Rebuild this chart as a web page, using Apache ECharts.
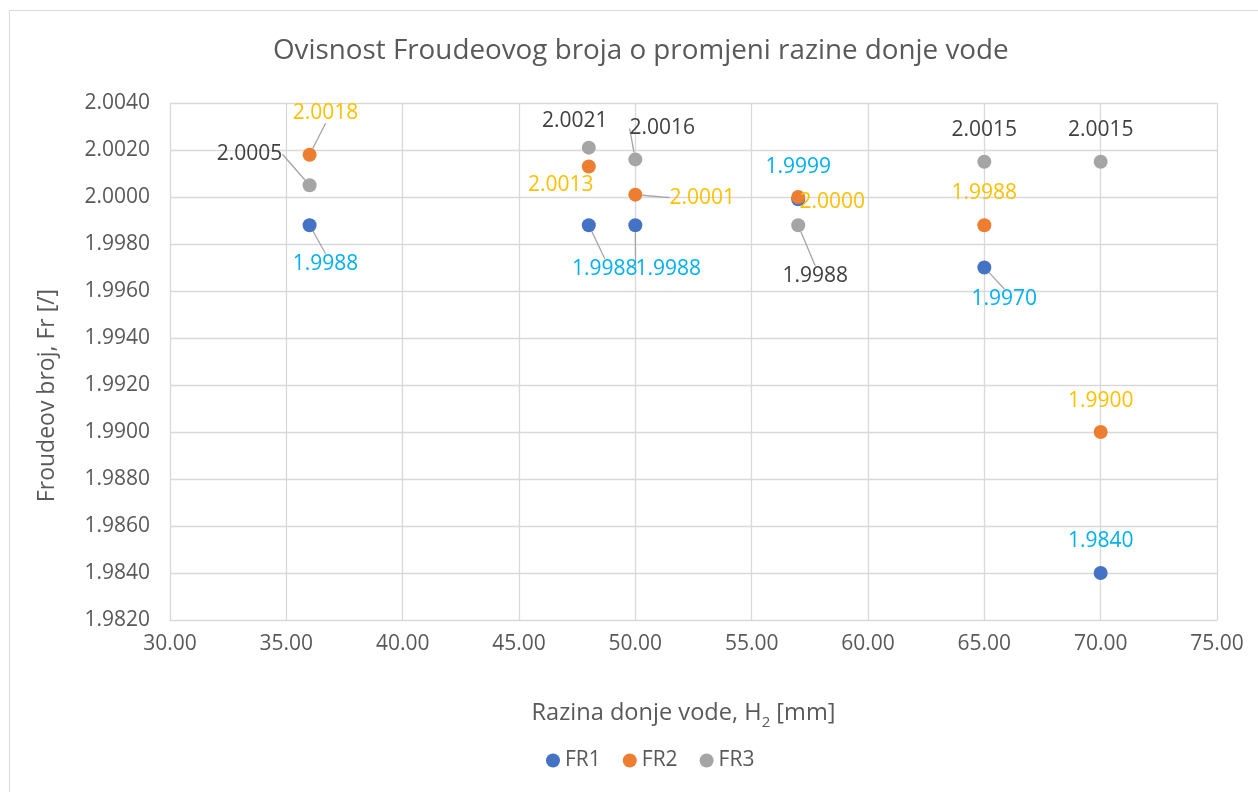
<!DOCTYPE html>
<html>
<head>
<meta charset="utf-8">
<script src="https://cdn.jsdelivr.net/npm/echarts@6/dist/echarts.min.js"></script>
<style>
  html, body { margin: 0; padding: 0; background: #fff; }
  #chart { width: 1258px; height: 792px; }
</style>
</head>
<body>
<div id="chart"></div>
<script>
// Water level H2 [mm] and measured Froude numbers for three runs
const xValues = [36, 48, 50, 57, 65, 70];
const fr1 = [1.9988, 1.9988, 1.9988, 1.9999, 1.9970, 1.9840];
const fr2 = [2.0018, 2.0013, 2.0001, 2.0000, 1.9988, 1.9900];
const fr3 = [2.0005, 2.0021, 2.0016, 1.9988, 2.0015, 2.0015];
const seriesNames = ['FR1', 'FR2', 'FR3'];

// Label placement: [dx, dy, leader line shown] relative to each point
const labelPlacement = [
  [[16, 39, 1], [16, 44, 1], [33, 44, 1], [0, -32, 0], [20, 32, 1], [0, -32, 0]],
  [[16, -42, 1], [-28, 19, 0], [67, 3, 1], [34, 5, 1], [0, -32, 0], [0, -31, 0]],
  [[-60, -31, 1], [-14, -27, 0], [27, -31, 1], [17, 51, 1], [0, -32, 0], [0, -32, 0]]
];

const markerColors = ['#4472C4', '#ED7D31', '#A5A5A5'];
const labelColors = ['#00B0F0', '#FFC000', '#404040'];
const textColor = '#595959';
const gridColor = '#D9D9D9';
const FONT = 'Open Sans';

function buildSeries(idx, values) {
  return {
    name: seriesNames[idx],
    type: 'scatter',
    symbol: 'circle',
    symbolSize: 14,
    itemStyle: { color: markerColors[idx], opacity: 1 },
    data: xValues.map((x, i) => ({
      value: [x, values[i]],
      labelLine: { show: !!labelPlacement[idx][i][2] }
    })),
    label: {
      show: true,
      position: 'inside',
      color: labelColors[idx],
      fontFamily: FONT,
      fontSize: 21,
      formatter: p => p.value[1].toFixed(4)
    },
    labelLine: {
      show: true,
      minTurnAngle: 0,
      maxSurfaceAngle: 180,
      lineStyle: { color: '#A5A5A5', width: 1.3 }
    },
    labelLayout: p => {
      const pl = labelPlacement[idx][p.dataIndex];
      return { dx: pl[0], dy: pl[1] };
    },
    emphasis: { disabled: true }
  };
}

const chart = echarts.init(document.getElementById('chart'));
chart.setOption({
  animation: false,
  backgroundColor: '#fff',
  graphic: [{
    type: 'rect',
    shape: { x: 9.5, y: 10.5, width: 1260, height: 800 },
    style: { fill: 'none', stroke: gridColor, lineWidth: 1 },
    silent: true
  }],
  title: {
    text: 'Ovisnost Froudeovog broja o promjeni razine donje vode',
    left: 268,
    top: 32,
    textStyle: { color: textColor, fontFamily: FONT, fontSize: 27.8, fontWeight: 'normal' }
  },
  grid: { left: 170, right: 41, top: 103, bottom: 172 },
  legend: {
    bottom: 16,
    left: 541,
    icon: 'circle',
    itemWidth: 14,
    itemHeight: 14,
    itemGap: 22,
    textStyle: { color: textColor, fontFamily: FONT, fontSize: 21 },
    data: seriesNames
  },
  xAxis: {
    type: 'value',
    min: 30,
    max: 75,
    interval: 5,
    name: 'Razina donje vode, H{sub|2} [mm]',
    nameLocation: 'middle',
    nameGap: 76,
    nameTextStyle: {
      color: textColor, fontFamily: FONT, fontSize: 23.6, lineHeight: 34,
      padding: [0, 20, 0, 0],
      rich: { sub: { fontSize: 15, lineHeight: 15, verticalAlign: 'bottom', color: textColor, fontFamily: FONT } }
    },
    axisLine: { show: true, lineStyle: { color: gridColor } },
    axisTick: { show: false },
    splitLine: { show: true, lineStyle: { color: gridColor, width: 1.3 } },
    axisLabel: { color: textColor, fontFamily: FONT, fontSize: 21, margin: 14, formatter: v => v.toFixed(2) }
  },
  yAxis: {
    type: 'value',
    min: 1.982,
    max: 2.004,
    interval: 0.002,
    name: 'Froudeov broj, Fr [/]',
    nameLocation: 'middle',
    nameGap: 111,
    nameTextStyle: { color: textColor, fontFamily: FONT, fontSize: 23, padding: [0, 68, 0, 0] },
    axisLine: { show: true, lineStyle: { color: gridColor } },
    axisTick: { show: false },
    splitLine: { show: true, lineStyle: { color: gridColor, width: 1.3 } },
    axisLabel: { color: textColor, fontFamily: FONT, fontSize: 21, margin: 20, formatter: v => v.toFixed(4) }
  },
  series: [buildSeries(0, fr1), buildSeries(1, fr2), buildSeries(2, fr3)]
});
</script>
</body>
</html>
